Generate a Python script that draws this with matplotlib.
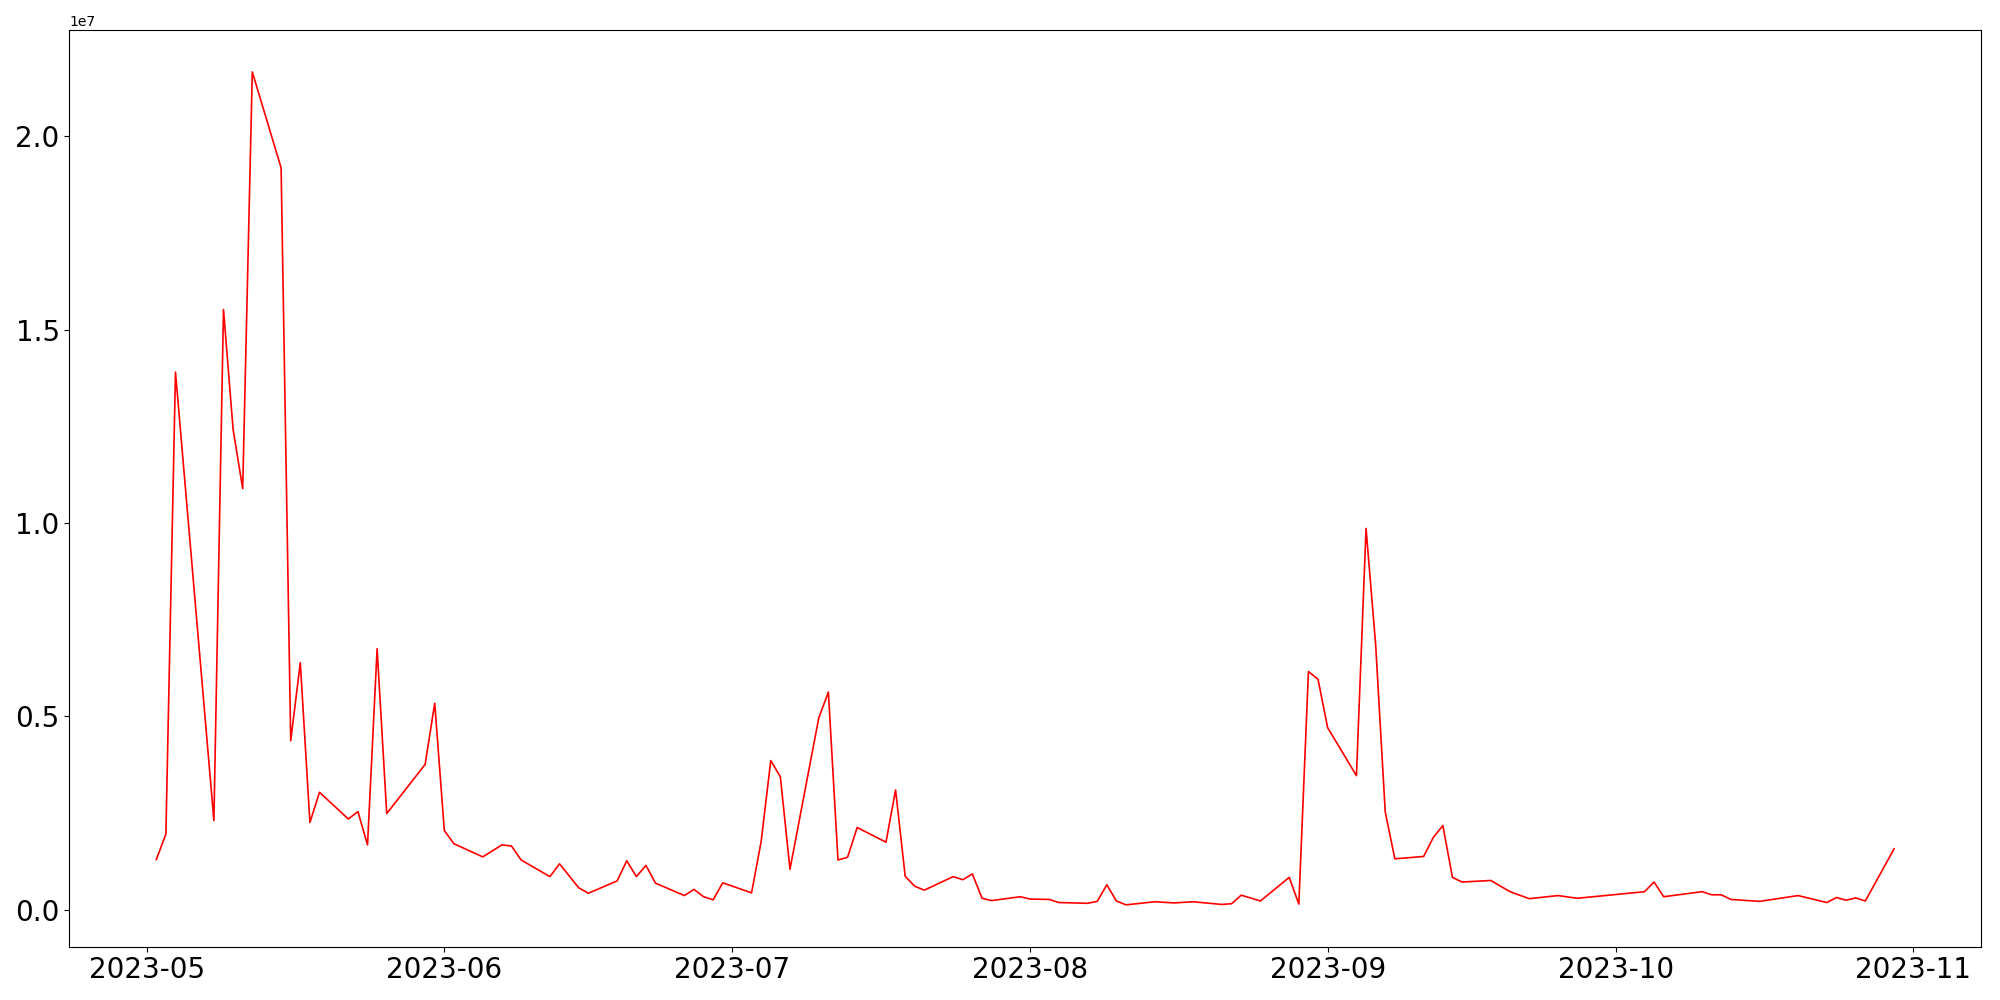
import matplotlib
matplotlib.use("Agg")
import matplotlib.pyplot as plt
import pandas as pd

dates = ['2023-05-02', '2023-05-03', '2023-05-04', '2023-05-08', '2023-05-09', '2023-05-10',
         '2023-05-11', '2023-05-12', '2023-05-15', '2023-05-16', '2023-05-17', '2023-05-18',
         '2023-05-19', '2023-05-22', '2023-05-23', '2023-05-24', '2023-05-25', '2023-05-26',
         '2023-05-30', '2023-05-31', '2023-06-01', '2023-06-02', '2023-06-05', '2023-06-07',
         '2023-06-08', '2023-06-09', '2023-06-12', '2023-06-13', '2023-06-15', '2023-06-16',
         '2023-06-19', '2023-06-20', '2023-06-21', '2023-06-22', '2023-06-23', '2023-06-26',
         '2023-06-27', '2023-06-28', '2023-06-29', '2023-06-30', '2023-07-03', '2023-07-04',
         '2023-07-05', '2023-07-06', '2023-07-07', '2023-07-10', '2023-07-11', '2023-07-12',
         '2023-07-13', '2023-07-14', '2023-07-17', '2023-07-18', '2023-07-19', '2023-07-20',
         '2023-07-21', '2023-07-24', '2023-07-25', '2023-07-26', '2023-07-27', '2023-07-28',
         '2023-07-31', '2023-08-01', '2023-08-03', '2023-08-04', '2023-08-07', '2023-08-08',
         '2023-08-09', '2023-08-10', '2023-08-11', '2023-08-14', '2023-08-16', '2023-08-18',
         '2023-08-21', '2023-08-22', '2023-08-23', '2023-08-25', '2023-08-28', '2023-08-29',
         '2023-08-30', '2023-08-31', '2023-09-01', '2023-09-04', '2023-09-05', '2023-09-06',
         '2023-09-07', '2023-09-08', '2023-09-11', '2023-09-12', '2023-09-13', '2023-09-14',
         '2023-09-15', '2023-09-18', '2023-09-20', '2023-09-22', '2023-09-25', '2023-09-27',
         '2023-10-04', '2023-10-05', '2023-10-06', '2023-10-10', '2023-10-11', '2023-10-12',
         '2023-10-13', '2023-10-16', '2023-10-20', '2023-10-23', '2023-10-24', '2023-10-25',
         '2023-10-26', '2023-10-27', '2023-10-30']

# values in millions
values = [1.30, 1.96, 13.90, 2.31, 15.52, 12.42,
          10.89, 21.66, 19.18, 4.37, 6.39, 2.26,
          3.04, 2.35, 2.54, 1.68, 6.75, 2.49,
          3.76, 5.34, 2.05, 1.71, 1.37, 1.68,
          1.65, 1.29, 0.86, 1.19, 0.57, 0.43,
          0.75, 1.27, 0.86, 1.15, 0.69, 0.37,
          0.53, 0.34, 0.26, 0.70, 0.44, 1.77,
          3.86, 3.44, 1.05, 4.96, 5.63, 1.29,
          1.36, 2.13, 1.75, 3.10, 0.87, 0.61,
          0.51, 0.86, 0.78, 0.93, 0.30, 0.24,
          0.34, 0.28, 0.27, 0.19, 0.17, 0.22,
          0.65, 0.23, 0.13, 0.21, 0.18, 0.21,
          0.14, 0.16, 0.38, 0.23, 0.84, 0.15,
          6.16, 5.96, 4.71, 3.47, 9.86, 6.86,
          2.53, 1.32, 1.38, 1.87, 2.18, 0.84,
          0.72, 0.76, 0.47, 0.29, 0.37, 0.30,
          0.47, 0.72, 0.34, 0.47, 0.39, 0.39,
          0.27, 0.22, 0.37, 0.19, 0.32, 0.25,
          0.31, 0.23, 1.58]

x = pd.to_datetime(dates)
y = [v * 1e6 for v in values]

fig = plt.figure(figsize=(20, 10), dpi=100)
plt.plot(x, y, color='red', linewidth=1.2)
plt.xticks(fontsize=20)
plt.yticks(fontsize=20)
plt.subplots_adjust(left=0.0347, right=0.9905, top=0.9697, bottom=0.0535)
plt.savefig("out.png")
